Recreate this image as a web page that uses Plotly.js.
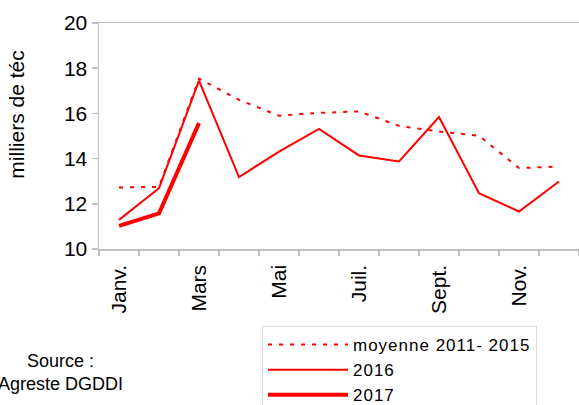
<!DOCTYPE html>
<html>
<head>
<meta charset="utf-8">
<script src="https://cdn.plot.ly/plotly-3.0.1.min.js"></script>
<style>html,body{margin:0;padding:0;background:#fff;}#chart{width:579px;height:405px;}
.legendtext{letter-spacing:1px;}</style>
</head>
<body>
<div id="chart"></div>
<script>
const months = ['Janv.','Févr.','Mars','Avr.','Mai','Juin','Juil.','Août','Sept.','Oct.','Nov.','Déc.'];
const monthLabels = ['Janv.','','Mars','','Mai','','Juil.','','Sept.','','Nov.',''];
const moyenne = [12.72, 12.75, 17.54, 16.6, 15.9, 16.02, 16.09, 15.45, 15.2, 15.01, 13.58, 13.65];
const y2016 = [11.29, 12.69, 17.45, 13.18, 14.31, 15.31, 14.14, 13.87, 15.84, 12.47, 11.66, 12.99];
const y2017 = [11.02, 11.58, 15.57];
const yTicks = [10, 12, 14, 16, 18, 20];

const red = '#FF0000';
const font = 'Liberation Sans, Arial, sans-serif';

const traces = [
  {x: months, y: moyenne, type: 'scatter', mode: 'lines', name: 'moyenne 2011- 2015',
   line: {color: red, width: 2, dash: '4px,7px'}},
  {x: months, y: y2016, type: 'scatter', mode: 'lines', name: '2016',
   line: {color: red, width: 2}},
  {x: months.slice(0, y2017.length), y: y2017, type: 'scatter', mode: 'lines', name: '2017',
   line: {color: red, width: 4}}
];

const layout = {
  width: 579, height: 405,
  margin: {l: 99, r: 0, t: 23, b: 156, autoexpand: false},
  paper_bgcolor: '#fff', plot_bgcolor: '#fff',
  font: {family: font, size: 19, color: '#000'},
  showlegend: true,
  xaxis: {
    type: 'category', categoryorder: 'array', categoryarray: months,
    range: [-0.5, 11.5], automargin: false,
    tickmode: 'array', tickvals: months, ticktext: monthLabels,
    tickson: 'boundaries', ticks: 'outside', ticklen: 5, tickwidth: 1.5, tickcolor: '#BFBFBF',
    tickangle: -90, ticklabelstandoff: 6, tickfont: {family: font, size: 21, color: '#000'},
    showline: true, linecolor: '#BFBFBF', linewidth: 1.5, mirror: true,
    showgrid: false, zeroline: false, fixedrange: true
  },
  yaxis: {
    range: [10, 20], tickmode: 'array', tickvals: yTicks, automargin: false,
    ticks: 'outside', ticklen: 6, tickwidth: 1.5, tickcolor: '#BFBFBF',
    tickfont: {family: font, size: 21, color: '#000'},
    showline: true, linecolor: '#BFBFBF', linewidth: 1.5,
    showgrid: false, zeroline: false, fixedrange: true
  },
  legend: {
    xref: 'container', yref: 'container',
    x: 262 / 579, y: 1 - 326 / 405, xanchor: 'left', yanchor: 'top',
    bordercolor: '#D9D9D9', borderwidth: 1, bgcolor: '#fff',
    font: {family: font, size: 17, color: '#000'},
    itemwidth: 80, tracegroupgap: 0
  },
  annotations: [
    {text: 'milliers de téc', xref: 'paper', yref: 'paper', x: -0.171, y: 0.594,
     textangle: -90, showarrow: false, xanchor: 'center', yanchor: 'middle',
     font: {family: font, size: 21, color: '#000'}},
    {text: 'Source :<br>Agreste DGDDI', xref: 'paper', yref: 'paper', x: -0.081, y: -0.545,
     showarrow: false, xanchor: 'center', yanchor: 'middle', align: 'center',
     font: {family: font, size: 18, color: '#000'}}
  ]
};

Plotly.newPlot('chart', traces, layout, {displayModeBar: false, staticPlot: true});
</script>
</body>
</html>
